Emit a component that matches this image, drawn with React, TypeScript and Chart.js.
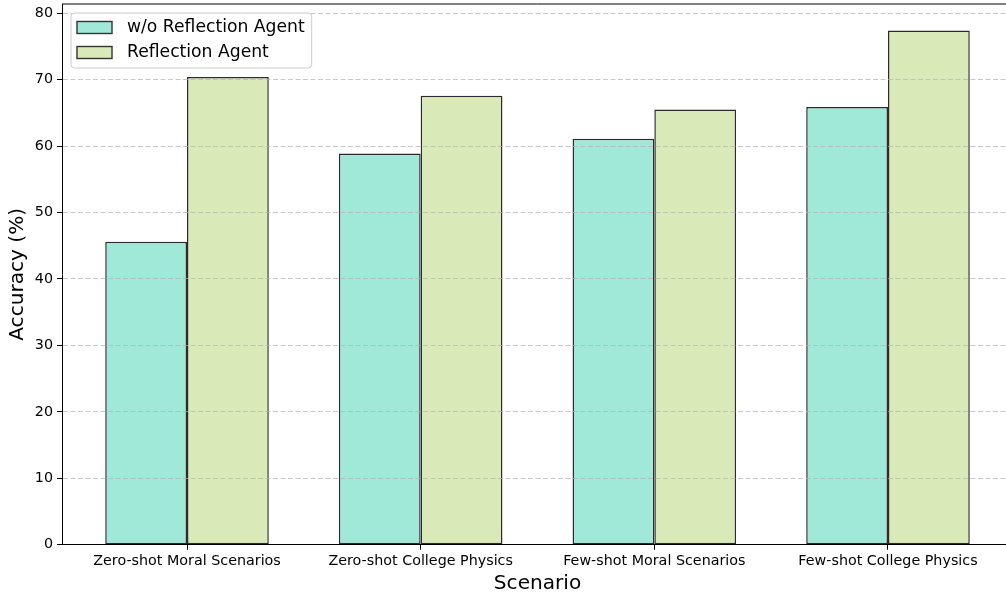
import React, { useEffect, useRef } from "react";
import { Chart, registerables } from "chart.js";

Chart.register(...registerables);

const categories = [
  "Zero-shot Moral Scenarios",
  "Zero-shot College Physics",
  "Few-shot Moral Scenarios",
  "Few-shot College Physics",
];
const seriesLabels = ["w/o Reflection Agent", "Reflection Agent"];
const withoutReflection = [45.6, 58.9, 61.1, 65.9];
const withReflection = [70.4, 67.6, 65.5, 77.4];
const yTicks = [0, 10, 20, 30, 40, 50, 60, 70, 80];
const seriesColors = ["#A0E9D8", "#D9EAB8"];

const FONT = "'DejaVu Sans', sans-serif";

const framePlugin = {
  id: "frame",
  afterDraw(chart: any) {
    const { ctx, chartArea } = chart;
    ctx.save();
    ctx.strokeStyle = "#000";
    ctx.lineWidth = 1;
    ctx.beginPath();
    ctx.moveTo(chartArea.left, chartArea.top);
    ctx.lineTo(chartArea.right, chartArea.top);
    ctx.lineTo(chartArea.right, chartArea.bottom);
    ctx.stroke();
    ctx.restore();
  },
};

const legendPlugin = {
  id: "innerLegend",
  afterDraw(chart: any) {
    const { ctx, chartArea } = chart;
    const ds = chart.data.datasets;
    const fontPx = 17.2;
    ctx.save();
    ctx.font = `${fontPx}px ${FONT}`;
    let maxW = 0;
    ds.forEach((d: any) => {
      maxW = Math.max(maxW, ctx.measureText(d.label).width);
    });
    const bx = chartArea.left + 9;
    const by = chartArea.top + 9;
    const textX = bx + 56;
    const bw = 56 + maxW + 7;
    const bh = 55;
    const r = 3.5;
    ctx.beginPath();
    ctx.moveTo(bx + r, by);
    ctx.lineTo(bx + bw - r, by);
    ctx.arcTo(bx + bw, by, bx + bw, by + r, r);
    ctx.lineTo(bx + bw, by + bh - r);
    ctx.arcTo(bx + bw, by + bh, bx + bw - r, by + bh, r);
    ctx.lineTo(bx + r, by + bh);
    ctx.arcTo(bx, by + bh, bx, by + bh - r, r);
    ctx.lineTo(bx, by + r);
    ctx.arcTo(bx, by, bx + r, by, r);
    ctx.closePath();
    ctx.fillStyle = "rgba(255,255,255,0.8)";
    ctx.fill();
    ctx.strokeStyle = "#cccccc";
    ctx.lineWidth = 1;
    ctx.stroke();
    ds.forEach((d: any, i: number) => {
      const cy = by + 14.5 + i * 25;
      ctx.fillStyle = d.backgroundColor;
      ctx.fillRect(bx + 6, cy - 6, 35, 12);
      ctx.strokeStyle = "#333";
      ctx.lineWidth = 1.4;
      ctx.strokeRect(bx + 6, cy - 6, 35, 12);
      ctx.fillStyle = "#000";
      ctx.textBaseline = "middle";
      ctx.textAlign = "left";
      ctx.fillText(d.label, textX, cy);
    });
    ctx.restore();
  },
};

export default function App() {
  const canvasRef = useRef<HTMLCanvasElement | null>(null);

  useEffect(() => {
    document.body.style.margin = "0";
    document.body.style.overflow = "hidden";
    const canvas = canvasRef.current;
    if (!canvas) return;
    const seriesValues = [withoutReflection, withReflection];
    const chart = new Chart(canvas, {
      type: "bar",
      data: {
        datasets: seriesValues.map((vals, si) => ({
          label: seriesLabels[si],
          data: vals.map((v, i) => ({ x: i, y: v })),
          backgroundColor: seriesColors[si],
          borderColor: "#2b2b2b",
          borderWidth: 1.5,
          borderSkipped: false,
          categoryPercentage: 0.7,
          barPercentage: 1.0,
        })),
      },
      options: {
        animation: false,
        responsive: true,
        maintainAspectRatio: false,
        layout: { padding: { top: 4, right: 6, bottom: 0, left: 0 } },
        plugins: {
          legend: { display: false },
          tooltip: { enabled: false },
        },
        scales: {
          x: {
            type: "linear",
            min: -0.535,
            max: 3.535,
            offset: false,
            afterFit: (s: any) => {
              s.height = 48.3;
              s.paddingLeft = 0;
              s.paddingRight = 0;
            },
            afterBuildTicks: (s: any) => {
              s.ticks = categories.map((_, i) => ({ value: i }));
            },
            grid: {
              offset: false,
              drawOnChartArea: false,
              drawTicks: true,
              tickLength: 5,
              tickColor: "#000",
              tickWidth: 1,
            },
            border: { display: true, color: "#000", width: 1, z: 1 },
            ticks: {
              autoSkip: false,
              maxRotation: 0,
              padding: 3,
              color: "#000",
              font: { family: FONT, size: 14.3 },
              callback: (v: any) => categories[v as number] ?? "",
            },
            title: {
              display: true,
              text: "Scenario",
              color: "#000",
              font: { family: FONT, size: 20.1 },
              padding: { top: 0, bottom: -2.5 },
            },
          },
          y: {
            type: "linear",
            min: 0,
            max: 81.4,
            afterFit: (s: any) => {
              s.width = 62;
              s.paddingTop = 0;
              s.paddingBottom = 0;
            },
            afterBuildTicks: (s: any) => {
              s.ticks = yTicks.map((v) => ({ value: v }));
            },
            grid: {
              z: 1,
              color: (c: any) =>
                c.tick && c.tick.value === 0 ? "rgba(0,0,0,0)" : "rgba(176,176,176,0.7)",
              lineWidth: 1,
              drawTicks: true,
              tickLength: 5,
              tickColor: "#000",
              tickWidth: 1,
              tickBorderDash: [],
            },
            border: { display: true, color: "#000", width: 1, dash: [5, 2.5], z: 1 },
            ticks: {
              padding: 4,
              color: "#000",
              font: { family: FONT, size: 14.3 },
            },
            title: {
              display: true,
              text: "Accuracy (%)",
              color: "#000",
              font: { family: FONT, size: 20.1 },
              padding: { top: 6, bottom: 0 },
            },
          },
        },
      },
      plugins: [framePlugin, legendPlugin],
    } as any);
    return () => chart.destroy();
  }, []);

  return (
    <div
      style={{
        position: "fixed",
        left: 0,
        top: 0,
        width: 1006,
        height: 593,
        overflow: "hidden",
        background: "#fff",
      }}
    >
      <div style={{ position: "relative", width: 1019, height: 593 }}>
        <canvas ref={canvasRef} />
      </div>
    </div>
  );
}
